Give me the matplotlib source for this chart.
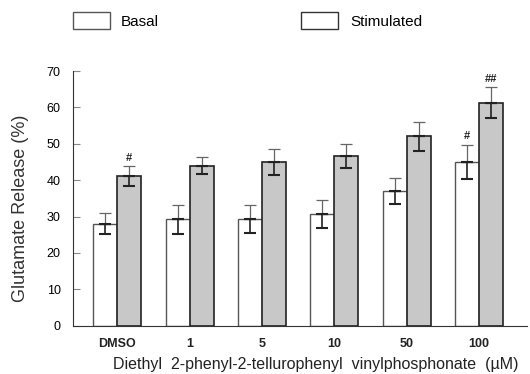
import matplotlib.pyplot as plt
from matplotlib.patches import Patch
import numpy as np

plt.rcParams['font.family'] = ['Liberation Sans', 'DejaVu Sans']

groups = ['DMSO', '1', '5', '10', '50', '100']
basal = [28.1, 29.3, 29.3, 30.7, 37.0, 45.1]
basal_err = [3.0, 4.0, 3.9, 3.8, 3.6, 4.7]
stim = [41.1, 44.0, 45.1, 46.7, 52.1, 61.3]
stim_err = [2.7, 2.4, 3.6, 3.3, 4.0, 4.2]
marks_basal = ['', '', '', '', '', '#']
marks_stim = ['#', '', '', '', '', '##']

x = np.arange(len(groups))
w = 0.33

fig = plt.figure(figsize=(5.3, 3.74), dpi=100)
ax = fig.add_axes([0.138, 0.129, 0.856, 0.681])

ax.bar(x - w / 2, basal, w, color='white', edgecolor='#555555', linewidth=1.0)
ax.bar(x + w / 2, stim, w, color='#c8c8c8', edgecolor='#222222', linewidth=1.2)

# upper half of error bars lighter, lower half darker (as in the scan)
for xs, vals, errs in [(x - w / 2, basal, basal_err), (x + w / 2, stim, stim_err)]:
    z = np.zeros(len(vals))
    ax.errorbar(xs, vals, yerr=[z, errs], fmt='none', ecolor='#666666',
                elinewidth=0.9, capsize=4.5, capthick=0.9)
    ax.errorbar(xs, vals, yerr=[errs, z], fmt='none', ecolor='#222222',
                elinewidth=1.2, capsize=4.5, capthick=1.5)

for xs, vals, errs, marks in [(x - w / 2, basal, basal_err, marks_basal),
                              (x + w / 2, stim, stim_err, marks_stim)]:
    for xi, v, e, m in zip(xs, vals, errs, marks):
        if m:
            ax.text(xi, v + e + 1.0, m, ha='center', va='bottom', fontsize=8,
                    fontweight='bold', color='#222222')

ax.set_xlim(-0.61, 5.66)
ax.set_ylim(0, 70)
ax.set_yticks(range(0, 71, 10))
ax.set_xticks(x)
ax.set_xticklabels(groups)
ax.spines['top'].set_visible(False)
ax.spines['right'].set_visible(False)
ax.spines['left'].set_color('#333333')
ax.spines['bottom'].set_color('#333333')
ax.tick_params(axis='y', direction='in', length=5, color='#888888', labelsize=9, pad=9)
ax.tick_params(axis='x', length=0, labelsize=9, pad=9)
for lbl in ax.get_xticklabels():
    lbl.set_fontweight('bold')
    lbl.set_color('#222222')

ax.set_ylabel('Glutamate Release (%)', fontsize=13, color='#333333')
ax.yaxis.set_label_coords(-0.098, 0.46)
ax.set_xlabel('Diethyl  2-phenyl-2-tellurophenyl  vinylphosphonate  (\u00b5M)',
              fontsize=11.5, color='#222222')
ax.xaxis.set_label_coords(0.535, -0.123)

handles = [Patch(facecolor='white', edgecolor='#555555', label='Basal'),
           Patch(facecolor='white', edgecolor='#333333', label='Stimulated')]
fig.legend(handles=handles, loc='upper left', bbox_to_anchor=(0.137, 0.968), ncol=2,
           frameon=False, fontsize=11, handlelength=2.42, handleheight=1.35,
           columnspacing=9.3, handletextpad=0.76, borderpad=0, borderaxespad=0)

fig.savefig('out.png', dpi=100)
